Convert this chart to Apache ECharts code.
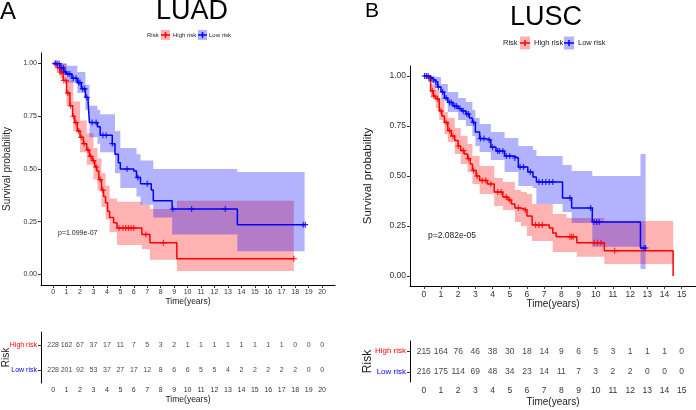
<!DOCTYPE html>
<html>
<head>
<meta charset="utf-8">
<title>LUAD / LUSC survival</title>
<script src="https://cdn.jsdelivr.net/npm/echarts@6/dist/echarts.min.js"></script>
<style>
  html, body { margin: 0; padding: 0; background: #fff; }
  #main { width: 696px; height: 410px; }
</style>
</head>
<body>
<div id="main"></div>
<script>
// ---- LUAD (panel A) ----
var luadHigh = [[0,1],[0.3,0.98],[0.5,0.96],[0.75,0.92],[1.0,0.86],[1.25,0.80],[1.45,0.75],[1.6,0.72],[1.8,0.68],[2.0,0.65],[2.25,0.62],[2.5,0.59],[2.7,0.56],[2.9,0.54],[3.1,0.51],[3.25,0.49],[3.4,0.45],[3.6,0.40],[3.75,0.37],[3.9,0.34],[4.05,0.30],[4.2,0.27],[4.5,0.245],[4.75,0.22],[6.6,0.19],[7.2,0.15],[9.2,0.075],[17.9,0.075]];
var luadLow = [[0,1],[0.5,0.98],[0.8,0.96],[1.0,0.95],[1.4,0.93],[1.8,0.91],[2.1,0.88],[2.4,0.84],[2.6,0.82],[2.7,0.72],[3.3,0.70],[3.5,0.66],[4.4,0.62],[4.6,0.57],[4.85,0.53],[5.0,0.50],[6.0,0.49],[6.2,0.46],[6.5,0.43],[7.3,0.40],[7.45,0.35],[8.85,0.31],[13.7,0.236],[18.7,0.236]];
// confidence bands: [time, lower, upper]; last row only closes the band
var luadHighBand = [[0,1,1],[0.5,0.93,1.0],[1.0,0.80,0.92],[1.5,0.68,0.82],[2.0,0.58,0.73],[2.5,0.52,0.67],[3.0,0.45,0.60],[3.3,0.40,0.55],[3.6,0.32,0.48],[3.9,0.26,0.42],[4.2,0.20,0.36],[4.75,0.14,0.345],[6.6,0.12,0.33],[7.2,0.07,0.31],[9.2,0.016,0.35],[17.9,0,0]];
var luadLowBand = [[0,1,1],[0.5,0.95,1.0],[1.0,0.91,0.99],[1.8,0.86,0.96],[2.4,0.78,0.90],[2.7,0.65,0.80],[3.3,0.62,0.78],[3.5,0.58,0.76],[4.6,0.48,0.68],[5.0,0.41,0.60],[6.2,0.37,0.57],[6.5,0.33,0.54],[7.45,0.27,0.50],[8.85,0.19,0.50],[13.7,0.11,0.486],[18.7,0,0]];
var luadHighCens = [0.2,0.35,0.5,0.65,0.8,0.95,1.1,1.3,1.5,1.7,1.9,2.1,2.3,2.6,2.8,3.0,3.2,3.5,3.7,4.9,5.2,5.4,5.6,5.8,6.0,6.9,8.2,17.9];
var luadLowCens = [0.15,0.3,0.45,0.6,0.75,0.9,1.1,1.25,1.5,1.7,1.9,2.0,2.2,2.35,2.5,2.9,3.2,3.7,3.95,4.4,5.5,6.3,7.0,8.9,10.3,12.8,18.6,18.75];
var luadTicks = [0,1,2,3,4,5,6,7,8,9,10,11,12,13,14,15,16,17,18,19,20];
var luadHighRisk = [228,162,67,37,17,11,7,5,3,2,1,1,1,1,1,1,1,1,0,0,0];
var luadLowRisk  = [228,201,92,53,37,27,17,12,8,6,6,5,5,4,2,2,2,2,2,0,0];

// ---- LUSC (panel B) ----
var luscHigh = [[0,1],[0.25,0.99],[0.4,0.926],[0.55,0.90],[0.7,0.886],[0.9,0.826],[1.05,0.80],[1.2,0.768],[1.4,0.727],[1.6,0.70],[1.8,0.677],[2.0,0.65],[2.15,0.627],[2.35,0.61],[2.55,0.587],[2.7,0.56],[2.83,0.528],[3.05,0.50],[3.25,0.478],[3.7,0.46],[4.1,0.42],[4.6,0.395],[4.9,0.38],[5.1,0.36],[5.3,0.34],[5.65,0.33],[6.0,0.30],[6.3,0.255],[7.3,0.24],[7.5,0.215],[7.7,0.196],[8.9,0.166],[10.5,0.126],[14.5,0]];
var luscLow = [[0,1],[0.3,0.99],[0.5,0.98],[0.64,0.97],[0.8,0.945],[1.0,0.92],[1.2,0.89],[1.4,0.868],[1.7,0.85],[2.0,0.837],[2.2,0.825],[2.45,0.81],[2.65,0.79],[2.83,0.768],[3.0,0.72],[3.25,0.687],[3.6,0.68],[3.9,0.644],[4.2,0.625],[4.7,0.60],[5.2,0.59],[5.5,0.545],[6.05,0.52],[6.35,0.495],[6.55,0.47],[8.07,0.39],[8.6,0.34],[9.8,0.27],[12.6,0.14],[12.9,0.14]];
var luscHighBand = [[0,1,1],[0.25,0.97,1.0],[0.4,0.89,0.96],[0.7,0.84,0.93],[0.9,0.78,0.88],[1.2,0.71,0.82],[1.4,0.67,0.79],[1.8,0.61,0.74],[2.15,0.56,0.70],[2.55,0.52,0.66],[2.83,0.46,0.60],[3.25,0.41,0.55],[4.1,0.35,0.49],[4.6,0.33,0.47],[5.3,0.27,0.43],[5.65,0.25,0.42],[6.0,0.20,0.41],[6.3,0.175,0.36],[7.5,0.12,0.31],[8.3,0.12,0.29],[8.9,0.096,0.29],[10.5,0.06,0.275],[14.5,0,0]];
var luscLowBand = [[0,1,1],[0.3,0.97,1.0],[0.64,0.94,0.995],[1.0,0.88,0.96],[1.4,0.82,0.92],[2.0,0.78,0.89],[2.45,0.75,0.87],[2.83,0.70,0.83],[3.0,0.65,0.79],[3.25,0.62,0.76],[3.9,0.58,0.72],[4.7,0.52,0.69],[5.5,0.45,0.65],[6.35,0.44,0.63],[6.55,0.36,0.60],[8.07,0.32,0.555],[8.6,0.265,0.525],[9.8,0.146,0.50],[12.6,0.035,0.61],[12.9,0,0]];
var luscHighCens = [0.3,0.5,0.6,0.8,1.0,1.3,1.5,1.7,2.0,2.3,2.6,2.9,3.1,3.4,3.6,3.9,4.3,4.5,4.8,5.0,5.5,5.9,6.5,6.7,6.9,8.5,8.6,8.7,9.9,10.1,10.3,11.1];
var luscLowCens = [0.05,0.15,0.25,0.4,0.55,0.7,0.85,1.1,1.3,1.5,1.6,1.8,1.9,2.1,2.3,2.5,2.6,2.9,3.3,3.5,3.8,4.0,4.3,4.4,4.6,4.8,5.0,5.3,5.6,5.8,6.2,6.7,6.9,7.1,7.3,7.5,8.5,9.7,9.9,10.05,10.2,12.8,12.9];
var luscTicks = [0,1,2,3,4,5,6,7,8,9,10,11,12,13,14,15];
var luscHighRisk = [215,164,76,46,38,30,18,14,9,6,5,3,1,1,1,0];
var luscLowRisk  = [216,175,114,69,48,34,23,14,11,7,3,2,2,0,0,0];

var yTicks = [0, 0.25, 0.5, 0.75, 1];
var RED = '#ff0000', BLUE = '#0000ff';
var SANS = '"Liberation Sans", Arial, sans-serif';

// survival value of a step curve at time t
function survAt(curve, t) {
  var s = 1;
  for (var i = 0; i < curve.length; i++) if (curve[i][0] <= t) s = curve[i][1];
  return s;
}

function bandSeries(band, idx, fill) {
  return {
    type: 'custom', xAxisIndex: idx, yAxisIndex: idx, silent: true, z: 1,
    data: [[band[0][0], band[0][1]]],
    renderItem: function (params, api) {
      var up = [], lo = [];
      for (var i = 0; i < band.length - 1; i++) {
        var b = band[i], next = band[i + 1][0];
        up.push(api.coord([b[0], b[2]]), api.coord([next, b[2]]));
        lo.push(api.coord([b[0], b[1]]), api.coord([next, b[1]]));
      }
      return { type: 'polygon', shape: { points: up.concat(lo.reverse()) }, style: { fill: fill } };
    }
  };
}

function curveSeries(curve, idx, color) {
  return { type: 'line', xAxisIndex: idx, yAxisIndex: idx, step: 'end', data: curve,
    showSymbol: false, lineStyle: { color: color, width: 1.5 }, z: 3, silent: true };
}

var CROSS = 'path://M4,0H6V4H10V6H6V10H4V6H0V4H4Z';
function censSeries(times, curve, idx, color, size) {
  return { type: 'scatter', xAxisIndex: idx, yAxisIndex: idx, symbol: CROSS, symbolSize: size,
    itemStyle: { color: color }, z: 4, silent: true,
    data: times.map(function (t) { return [t, survAt(curve, t)]; }) };
}

function riskSeries(vals, row, idx, fs) {
  return { type: 'scatter', xAxisIndex: idx, yAxisIndex: idx, symbolSize: 0, silent: true,
    data: vals.map(function (v, i) { return [i, row, v]; }),
    label: { show: true, position: 'inside', fontSize: fs, color: '#111', fontFamily: SANS,
      formatter: function (p) { return p.value[2]; } } };
}

function xAxis(gi, min, max, ticks, fs, nfs, gap) {
  return { type: 'value', gridIndex: gi, min: min, max: max,
    name: 'Time(years)', nameLocation: 'middle', nameGap: gap, nameMoveOverlap: false,
    nameTextStyle: { fontSize: nfs, color: '#222', fontFamily: SANS },
    axisLine: { onZero: false, lineStyle: { color: '#000', width: 1 } },
    axisTick: { customValues: ticks, length: 3, lineStyle: { color: '#333' } },
    axisLabel: { customValues: ticks, fontSize: fs, color: '#333', margin: 4, fontFamily: SANS },
    splitLine: { show: false } };
}

function yAxisSurv(gi, fs, nfs, gap) {
  return { type: 'value', gridIndex: gi, min: -0.05, max: 1.05,
    name: 'Survival probability', nameLocation: 'middle', nameGap: gap, nameMoveOverlap: false,
    nameTextStyle: { fontSize: nfs, color: '#222', fontFamily: SANS },
    axisLine: { show: true, onZero: false, lineStyle: { color: '#000', width: 1 } },
    axisTick: { show: true, customValues: yTicks, length: 3, lineStyle: { color: '#333' } },
    axisLabel: { customValues: yTicks, fontSize: fs, color: '#333', margin: 4, fontFamily: SANS,
      formatter: function (v) { return v.toFixed(2); } },
    splitLine: { show: false } };
}

function yAxisRisk(gi, fs, nfs, gap) {
  return { type: 'category', gridIndex: gi,
    data: [
      { value: 'Low risk', textStyle: { color: BLUE, fontSize: fs, fontFamily: SANS } },
      { value: 'High risk', textStyle: { color: RED, fontSize: fs, fontFamily: SANS } }
    ],
    name: 'Risk', nameLocation: 'middle', nameGap: gap, nameMoveOverlap: false,
    nameTextStyle: { fontSize: nfs, color: '#222', fontFamily: SANS },
    axisLine: { show: true, onZero: false, lineStyle: { color: '#000', width: 1 } },
    axisTick: { show: true, alignWithLabel: true, length: 3, lineStyle: { color: '#333' } },
    axisLabel: { fontSize: fs, margin: 4, fontFamily: SANS },
    splitLine: { show: false } };
}

function legend(y, fs, bw, bh, pos) {
  // pos: [riskX, box1X, text1X, box2X, text2X]
  var items = [{ type: 'text', x: pos[0], y: y, style: { text: 'Risk', fontSize: fs, fill: '#222', fontFamily: SANS, verticalAlign: 'middle' } }];
  [[pos[1], pos[2], 'High risk', RED, 'rgba(255,0,0,0.3)'], [pos[3], pos[4], 'Low risk', BLUE, 'rgba(0,0,255,0.3)']].forEach(function (it) {
    items.push({ type: 'rect', shape: { x: it[0], y: y - bh / 2, width: bw, height: bh }, style: { fill: it[4] } });
    items.push({ type: 'line', shape: { x1: it[0], y1: y, x2: it[0] + bw, y2: y }, style: { stroke: it[3], lineWidth: 1.5 } });
    items.push({ type: 'line', shape: { x1: it[0] + bw / 2, y1: y - 3, x2: it[0] + bw / 2, y2: y + 3 }, style: { stroke: it[3], lineWidth: 1.5 } });
    items.push({ type: 'text', x: it[1], y: y, style: { text: it[2], fontSize: fs, fill: '#222', fontFamily: SANS, verticalAlign: 'middle' } });
  });
  return items;
}

var chart = echarts.init(document.getElementById('main'), null, { renderer: 'canvas' });

var option = {
  animation: false,
  backgroundColor: '#fff',
  grid: [
    { left: 41, top: 53, width: 294, height: 232, outerBoundsMode: 'none' },
    { left: 41, top: 332, width: 294, height: 51, outerBoundsMode: 'none' },
    { left: 410, top: 66, width: 286, height: 220, outerBoundsMode: 'none' },
    { left: 410, top: 341, width: 286, height: 41, outerBoundsMode: 'none' }
  ],
  xAxis: [
    xAxis(0, -0.9, 20.96, luadTicks, 7, 8.5, 12),
    xAxis(1, -0.9, 20.96, luadTicks, 7, 8.5, 12),
    xAxis(2, -0.8, 15.83, luscTicks, 8.5, 10, 13),
    xAxis(3, -0.8, 15.83, luscTicks, 8.5, 10, 15)
  ],
  yAxis: [
    yAxisSurv(0, 7, 10, 29),
    yAxisRisk(1, 7, 10, 30),
    yAxisSurv(2, 8.5, 11.5, 36),
    yAxisRisk(3, 8, 12, 36)
  ],
  graphic: [
    { type: 'text', x: 0, y: 12, style: { text: 'A', fontSize: 24, fill: '#000', fontFamily: SANS, verticalAlign: 'middle' } },
    { type: 'text', x: 192, y: 12, style: { text: 'LUAD', fontSize: 27, fill: '#000', fontFamily: SANS, align: 'center', verticalAlign: 'middle' } },
    { type: 'text', x: 365, y: 11, style: { text: 'B', fontSize: 21, fill: '#000', fontFamily: SANS, verticalAlign: 'middle' } },
    { type: 'text', x: 546, y: 18, style: { text: 'LUSC', fontSize: 27, fill: '#000', fontFamily: SANS, align: 'center', verticalAlign: 'middle' } },
    { type: 'text', x: 58, y: 233, style: { text: 'p=1.099e-07', fontSize: 7, fill: '#222', fontFamily: SANS, verticalAlign: 'middle' } },
    { type: 'text', x: 428, y: 236, style: { text: 'p=2.082e-05', fontSize: 8.5, fill: '#222', fontFamily: SANS, verticalAlign: 'middle' } }
  ].concat(legend(35, 6, 9, 10, [147, 161, 173, 198, 209]))
   .concat(legend(43, 7.5, 10, 13, [503, 520, 534, 564, 578])),
  series: [
    bandSeries(luadHighBand, 0, 'rgba(255,0,0,0.3)'),
    bandSeries(luadLowBand, 0, 'rgba(0,0,255,0.3)'),
    curveSeries(luadHigh, 0, RED),
    curveSeries(luadLow, 0, BLUE),
    censSeries(luadHighCens, luadHigh, 0, RED, 6),
    censSeries(luadLowCens, luadLow, 0, BLUE, 6),
    riskSeries(luadHighRisk, 'High risk', 1, 7),
    riskSeries(luadLowRisk, 'Low risk', 1, 7),
    bandSeries(luscHighBand, 2, 'rgba(255,0,0,0.3)'),
    bandSeries(luscLowBand, 2, 'rgba(0,0,255,0.3)'),
    curveSeries(luscHigh, 2, RED),
    curveSeries(luscLow, 2, BLUE),
    censSeries(luscHighCens, luscHigh, 2, RED, 6),
    censSeries(luscLowCens, luscLow, 2, BLUE, 6),
    riskSeries(luscHighRisk, 'High risk', 3, 8.5),
    riskSeries(luscLowRisk, 'Low risk', 3, 8.5)
  ]
};
chart.setOption(option);
</script>
</body>
</html>
